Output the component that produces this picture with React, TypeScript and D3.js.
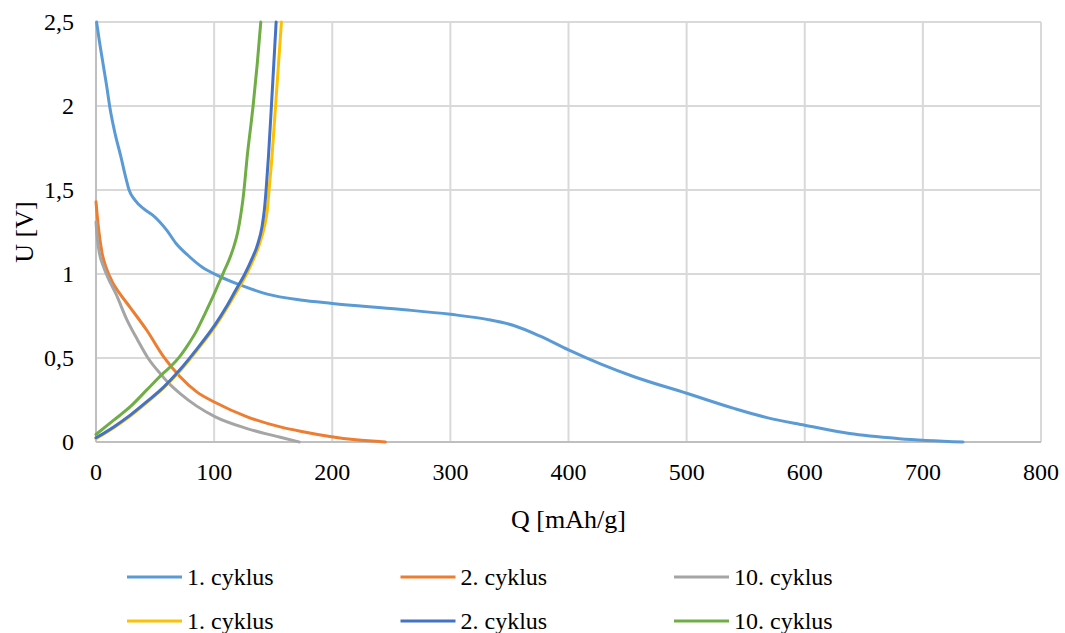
import React, { useEffect, useState } from "react";
import * as d3 from "d3";

type Pt = [number, number];

const xTicks = [0, 100, 200, 300, 400, 500, 600, 700, 800];
const yTicks = [0, 0.5, 1, 1.5, 2, 2.5];
const yTickLabels = ["0", "0,5", "1", "1,5", "2", "2,5"];

// 1. cyklus (discharge)
const disch1: Pt[] = [[0.5,2.5],[3,2.38],[6,2.25],[9,2.12],[12,1.98],[16,1.84],[21,1.7],[25,1.58],[28,1.5],[33,1.44],[40,1.39],[48,1.35],[54,1.31],[60,1.26],[68,1.18],[78,1.11],[90,1.04],[105,0.985],[122,0.935],[145,0.88],[173,0.845],[200,0.825],[257,0.79],[300,0.76],[331,0.73],[353,0.695],[376,0.63],[400,0.548],[427,0.465],[455,0.39],[500,0.29],[540,0.2],[568,0.145],[600,0.1],[638,0.05],[680,0.02],[734,0]];
// 2. cyklus (discharge)
const disch2: Pt[] = [[0,1.43],[1,1.35],[2.5,1.25],[5,1.13],[9,1.03],[14,0.95],[20,0.885],[29,0.8],[43,0.665],[57,0.51],[71,0.39],[85,0.3],[101,0.235],[128,0.15],[156,0.09],[173,0.064],[198,0.033],[220,0.013],[245,0]];
// 10. cyklus (discharge)
const disch10: Pt[] = [[0,1.31],[1,1.22],[3,1.12],[6,1.05],[10,0.98],[17,0.88],[26,0.73],[35,0.61],[44,0.5],[54,0.41],[63,0.34],[71,0.29],[85,0.215],[101,0.15],[128,0.08],[156,0.028],[172,0]];
// 1. cyklus (charge)
const charge1: Pt[] = [[0,0.02],[15,0.085],[29,0.155],[43,0.235],[57,0.32],[72,0.43],[86,0.55],[102,0.7],[111,0.8],[119.5,0.9],[127.5,1.0],[133.5,1.09],[138.5,1.18],[142.5,1.28],[145,1.38],[146.5,1.5],[149,1.7],[152,2.0],[154.5,2.25],[157,2.5]];
// 2. cyklus (charge)
const charge2: Pt[] = [[0,0.025],[15,0.09],[29,0.16],[43,0.24],[57,0.325],[71,0.43],[85,0.55],[101,0.7],[110,0.8],[118,0.9],[126,1.0],[132,1.09],[137,1.18],[140.5,1.28],[142.5,1.38],[144,1.5],[146,1.7],[148.5,2.0],[150.5,2.25],[152.5,2.5]];
// 10. cyklus (charge)
const charge10: Pt[] = [[0,0.045],[15,0.13],[29,0.21],[43,0.31],[57,0.41],[64,0.455],[71,0.51],[78,0.58],[85,0.66],[92,0.76],[98,0.85],[103,0.93],[108,1.01],[113,1.09],[117,1.17],[120,1.25],[122.5,1.35],[124.5,1.45],[126,1.55],[128,1.7],[130.5,1.85],[133,2.0],[136.5,2.25],[139.5,2.5]];

const seriesNames = ["1. cyklus", "2. cyklus", "10. cyklus", "1. cyklus", "2. cyklus", "10. cyklus"];
const seriesColors = ["#5B9BD5", "#ED7D31", "#A5A5A5", "#FFC000", "#4472C4", "#70AD47"];
const seriesData = [disch1, disch2, disch10, charge1, charge2, charge10];

const W = 1065, H = 633;
const M = { left: 96, right: 1041, top: 22, bottom: 442 };

export default function App() {
  const [ready, setReady] = useState(0);
  useEffect(() => {
    const fs: any = (document as any).fonts;
    if (fs && fs.load) {
      Promise.all([fs.load('24px "Liberation Serif"'), fs.load('26px "Liberation Serif"')])
        .then(() => setReady(1))
        .catch(() => setReady(2));
    }
  }, []);

  const x = d3.scaleLinear().domain([0, 800]).range([M.left, M.right]);
  const y = d3.scaleLinear().domain([0, 2.5]).range([M.bottom, M.top]);
  const line = d3.line<Pt>().x(d => x(d[0])).y(d => y(d[1])).curve(d3.curveMonotoneX);
  const fam = '"Liberation Serif"';

  return (
    <svg key={"r" + ready} width={W} height={H} style={{ position: "absolute", left: 0, top: 0 }}>
      <rect width={W} height={H} fill="#fff" />
      {/* gridlines */}
      {yTicks.filter(t => t > 0).map(t => (
        <line key={"gy" + t} x1={M.left} x2={M.right} y1={y(t)} y2={y(t)} stroke="#D9D9D9" strokeWidth={2} />
      ))}
      {xTicks.filter(t => t > 0).map(t => (
        <line key={"gx" + t} x1={x(t)} x2={x(t)} y1={M.top} y2={M.bottom} stroke="#D9D9D9" strokeWidth={2} />
      ))}
      {/* axes */}
      <line x1={M.left} x2={M.left} y1={M.top} y2={M.bottom} stroke="#BFBFBF" strokeWidth={2} />
      <line x1={M.left} x2={M.right} y1={M.bottom} y2={M.bottom} stroke="#BFBFBF" strokeWidth={2} />
      {/* tick labels */}
      {yTicks.map((t, i) => (
        <text key={"ty" + t} x={74} y={y(t) + 8} textAnchor="end" fontSize={24} style={{ fontFamily: fam }}>{yTickLabels[i]}</text>
      ))}
      {xTicks.map(t => (
        <text key={"tx" + t} x={x(t)} y={480} textAnchor="middle" fontSize={24} style={{ fontFamily: fam }}>{String(t)}</text>
      ))}
      {/* axis titles */}
      <text transform="translate(33,232) rotate(-90)" textAnchor="middle" fontSize={26} style={{ fontFamily: fam }}>U [V]</text>
      <text x={(M.left + M.right) / 2} y={528} textAnchor="middle" fontSize={26} style={{ fontFamily: fam }}>Q [mAh/g]</text>
      {/* series */}
      {seriesData.map((d, i) => (
        <path key={"s" + i} d={line(d) || ""} fill="none" stroke={seriesColors[i]} strokeWidth={3} strokeLinejoin="round" strokeLinecap="round" />
      ))}
      {/* legend */}
      {seriesNames.map((n, i) => {
        const col = i % 3, row = Math.floor(i / 3);
        const lx = 127 + col * 273.5;
        const ly = row === 0 ? 577 : 621;
        return (
          <g key={"lg" + i}>
            <line x1={lx} x2={lx + 55} y1={ly} y2={ly} stroke={seriesColors[i]} strokeWidth={3} />
            <text x={lx + 60} y={ly + 8} fontSize={24} style={{ fontFamily: fam }}>{n}</text>
          </g>
        );
      })}
    </svg>
  );
}
